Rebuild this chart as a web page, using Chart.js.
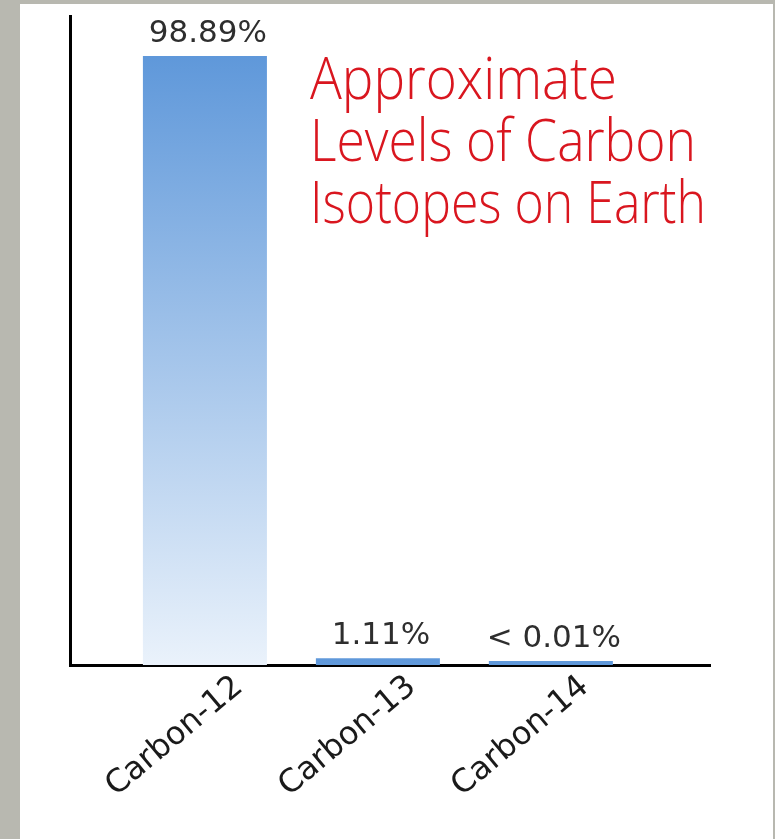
<!DOCTYPE html>
<html>
<head>
<meta charset="utf-8">
<title>Approximate Levels of Carbon Isotopes on Earth</title>
<script src="https://cdn.jsdelivr.net/npm/chart.js@4/dist/chart.umd.min.js"></script>
<style>
  html, body { margin: 0; padding: 0; }
  body { width: 775px; height: 839px; background: #b8b8b0; position: relative; overflow: hidden; }
  #panel { position: absolute; left: 20px; top: 4px; width: 753px; height: 835px; background: #ffffff; }
  #chart { position: absolute; left: 0; top: 0; }
</style>
</head>
<body>
<div id="panel"></div>
<canvas id="chart" width="775" height="839"></canvas>
<script>
// Isotopes and their share of all carbon, in percent
const isotopes = ['Carbon-12', 'Carbon-13', 'Carbon-14'];
const shares = [98.89, 1.11, 0.01];
// "<" marks a share that is only an upper bound
const sharePrefix = ['', '', '< '];
const titleLines = ['Approximate', 'Levels of Carbon', 'Isotopes on Earth'];

const TOP_BLUE = '#5f98da';
const BOTTOM_BLUE = '#eaf2fb';

// Bars fade from blue at their top to a pale tint towards the baseline
function barFill(ctx) {
  const chart = ctx.chart;
  const area = chart.chartArea;
  if (!area) return TOP_BLUE;
  const yScale = chart.scales.y;
  const top = yScale.getPixelForValue(shares[ctx.dataIndex]);
  const span = area.bottom - yScale.getPixelForValue(Math.max(...shares));
  const g = chart.ctx.createLinearGradient(0, top, 0, top + span);
  g.addColorStop(0, TOP_BLUE);
  g.addColorStop(1, BOTTOM_BLUE);
  return g;
}

// Percentage written above each bar
const valueLabels = {
  id: 'valueLabels',
  afterDatasetsDraw(chart) {
    const ctx = chart.ctx;
    const meta = chart.getDatasetMeta(0);
    ctx.save();
    ctx.font = '31px "DejaVu Sans"';
    ctx.fillStyle = '#2e2e2e';
    ctx.textAlign = 'center';
    ctx.textBaseline = 'alphabetic';
    meta.data.forEach((bar, i) => {
      ctx.fillText(sharePrefix[i] + shares[i].toFixed(2) + '%', bar.x + 3, bar.y - 14);
    });
    ctx.restore();
  }
};

// Red heading set inside the plot, to the right of the tall bar
const heading = {
  id: 'heading',
  afterDraw(chart) {
    const ctx = chart.ctx;
    const area = chart.chartArea;
    const lineWidths = [307, 386, 396];
    ctx.save();
    ctx.font = '300 58px "Open Sans"';
    ctx.fillStyle = '#d9161f';
    ctx.textAlign = 'left';
    ctx.textBaseline = 'alphabetic';
    const x0 = area.left + 240;
    titleLines.forEach((t, i) => {
      const sx = lineWidths[i] / ctx.measureText(t).width;
      ctx.save();
      ctx.translate(x0, area.top + 83 + i * 62);
      ctx.scale(sx, 1);
      ctx.fillText(t, 0, 0);
      ctx.restore();
    });
    ctx.restore();
  }
};

new Chart(document.getElementById('chart'), {
  type: 'bar',
  data: {
    datasets: [{
      data: shares.map((v, i) => ({ x: i, y: v })),
      backgroundColor: barFill,
      borderWidth: 0,
      minBarLength: 4,
      barPercentage: 0.717,
      categoryPercentage: 1
    }]
  },
  options: {
    responsive: false,
    animation: false,
    layout: { padding: { left: 70, right: 65, top: 16, bottom: 0 } },
    plugins: {
      legend: { display: false },
      tooltip: { enabled: false },
      title: { display: false }
    },
    scales: {
      x: {
        type: 'linear',
        min: -0.78,
        max: 2.92,
        offset: false,
        grid: { display: false, offset: false, drawTicks: false },
        border: { display: true, color: '#000000', width: 3 },
        afterBuildTicks: s => { s.ticks = isotopes.map((_, i) => ({ value: i })); },
        afterFit: s => { s.height = 174; },
        ticks: {
          autoSkip: false,
          minRotation: 40,
          maxRotation: 40,
          padding: 3,
          labelOffset: 34,
          color: '#1a1a1a',
          font: { family: 'DejaVu Sans', size: 32 },
          callback: v => isotopes[v] ?? ''
        }
      },
      y: {
        min: 0,
        max: 105.4,
        grid: { display: false, drawTicks: false },
        border: { display: true, color: '#000000', width: 3 },
        ticks: { display: false },
        afterFit: s => { s.width = 0; }
      }
    }
  },
  plugins: [valueLabels, heading]
});
</script>
</body>
</html>
